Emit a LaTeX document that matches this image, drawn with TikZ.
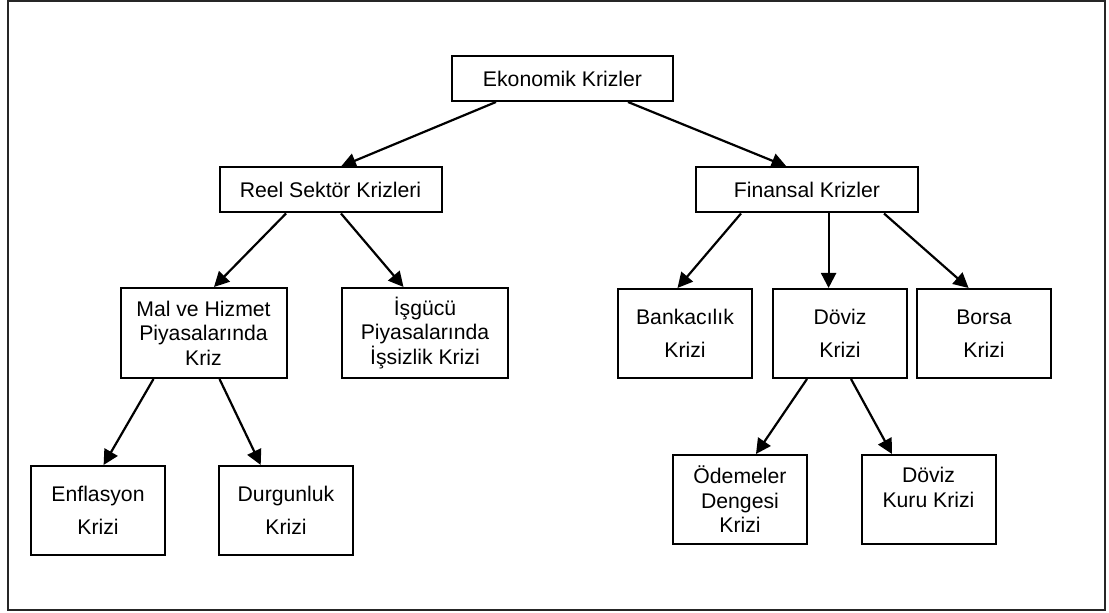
\documentclass[tikz,border=0pt]{standalone}
\usepackage{fontspec}
\setmainfont{Liberation Sans}
\usetikzlibrary{arrows.meta,positioning}

\begin{document}
\begin{tikzpicture}[
  x=0.5pt, y=-0.5pt,
  font=\fontsize{10.6}{12.2}\selectfont,
  box/.style  ={draw, line width=1pt, align=center, inner sep=0pt},
  wide/.style ={box, minimum width=111pt, minimum height=22.5pt},
  mid/.style  ={box, minimum width=83pt, minimum height=45pt},
  small/.style={box, minimum width=67pt, minimum height=44.5pt},
  loose/.style={small, font=\fontsize{10.6}{16.5}\selectfont},
  fl/.style   ={-{Triangle[length=7.5pt,width=7.5pt]}, line width=1.1pt}]

\useasboundingbox (0,0) rectangle (1109,613);
\draw[line width=0.8pt, black!85] (8,1) rectangle (1105,610);

% top level
\node[wide, minimum width=110.5pt] (eko) at (562.5,78.5) {Ekonomik Krizler};

% second level
\node[wide] (reel) at (330.5,190) {Reel Sektör Krizleri};
\node[wide] (fin)  at (807,190)   {Finansal Krizler};

% third level
\node[mid]   (mal)  at (203.5,333) {Mal ve Hizmet\\Piyasalarında\\Kriz};
\node[mid]   (isg)  at (425,333)   {İşgücü\\Piyasalarında\\İşsizlik Krizi};
\node[loose] (bank) at (685,333.5) {Bankacılık\\Krizi};
\node[loose] (dov)  at (840,333.5) {Döviz\\Krizi};
\node[loose] (bor)  at (984,333.5) {Borsa\\Krizi};

% fourth level
\node[loose] (enf)  at (98,510.5)    {Enflasyon\\Krizi};
\node[loose] (durg) at (286,510.5)   {Durgunluk\\Krizi};
\node[small] (odem) at (740,499.5)   {Ödemeler\\Dengesi\\Krizi};
\node[small] (kur)  at (928.5,499.5) {Döviz\\Kuru Krizi\\\phantom{Krizi}};

\foreach \a/\p/\b/\q in {eko/-33.25/reel/5.25, eko/32.75/fin/-10.25,
    reel/-22.25/mal/5.25, reel/5.25/isg/-10.75,
    fin/-33/bank/-3.75, fin/10.8/dov/-5.7, fin/38.5/bor/-7.7,
    mal/-25/enf/2.8, mal/8/durg/-12.65,
    dov/-16.5/odem/8, dov/5.5/kur/-18.25}
  \draw[fl] ([xshift=\p pt]\a.south) -- ([xshift=\q pt]\b.north);
\end{tikzpicture}
\end{document}
